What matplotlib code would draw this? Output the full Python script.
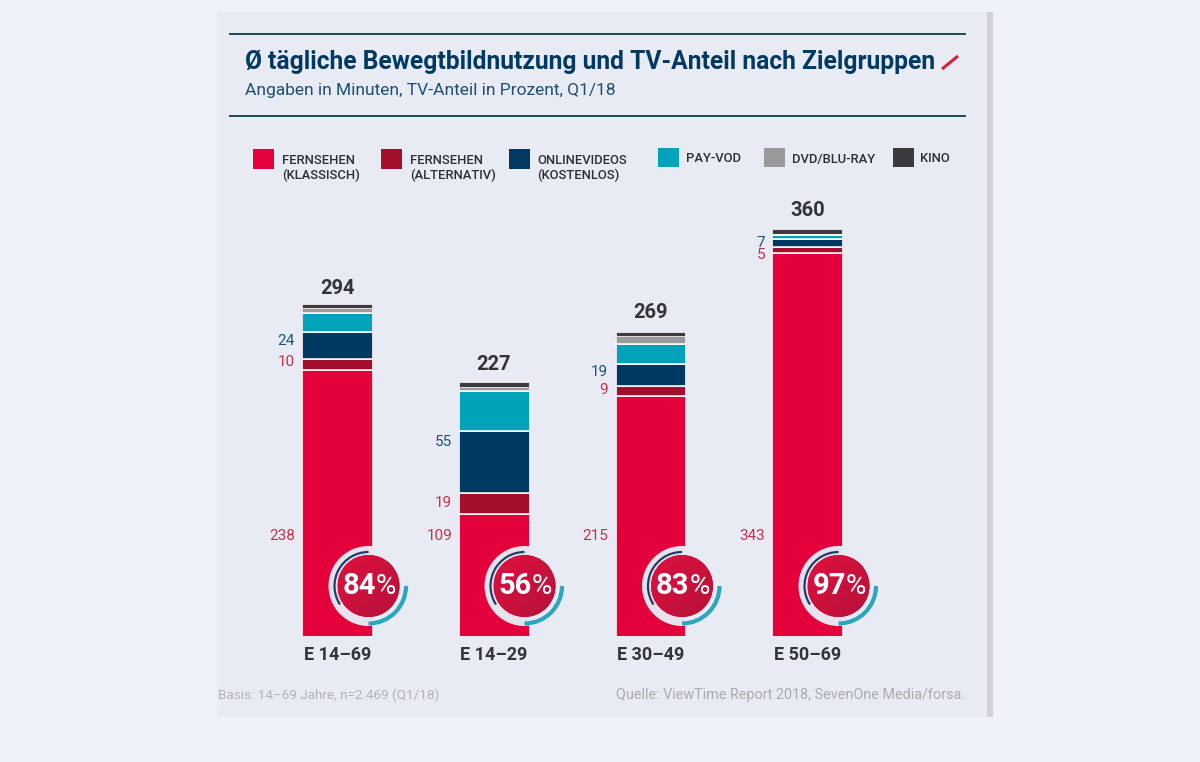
import matplotlib
matplotlib.use("Agg")
import matplotlib.pyplot as plt
import numpy as np
from matplotlib.patches import Rectangle, Circle, Arc

groups = ["E 14–69", "E 14–29", "E 30–49", "E 50–69"]
totals = [294, 227, 269, 360]
shares = ["84", "56", "83", "97"]
tv_klassisch = [238, 109, 215, 343]
tv_alternativ = [10, 19, 9, 5]
onlinevideos = [24, 55, 19, 7]
pay_vod = [17, 36, 18, 3.5]
dvd_bluray = [4.5, 4, 7.5, 1.5]
kino = [3.5, 4, 3.5, 4]
series = [tv_klassisch, tv_alternativ, onlinevideos, pay_vod, dvd_bluray, kino]
colors = ["#e4003a", "#a50f2e", "#003a63", "#00a3b8", "#9a9a9a", "#3b3b3d"]
legend_labels = ["FERNSEHEN\n(KLASSISCH)", "FERNSEHEN\n(ALTERNATIV)", "ONLINEVIDEOS\n(KOSTENLOS)",
                 "PAY-VOD", "DVD/BLU-RAY", "KINO"]
title = "Ø tägliche Bewegtbildnutzung und TV-Anteil nach Zielgruppen"
subtitle = "Angaben in Minuten, TV-Anteil in Prozent, Q1/18"
basis = "Basis: 14–69 Jahre, n=2.469 (Q1/18)"
quelle = "Quelle: ViewTime Report 2018, SevenOne Media/forsa."

W, H = 1200, 762
PANEL = "#e8ebf3"
plt.rcParams["font.family"] = ["Roboto", "DejaVu Sans"]
fig = plt.figure(figsize=(W / 100, H / 100), dpi=100, facecolor="#eef1f9")


def px_axes(z):
    a = fig.add_axes([0, 0, 1, 1], zorder=z)
    a.set_xlim(0, W)
    a.set_ylim(H, 0)
    a.axis("off")
    a.patch.set_alpha(0)
    return a


bg = px_axes(0)
fg = px_axes(2)
bg.add_patch(Rectangle((217, 12), 770, 705, fc=PANEL, ec="none"))
bg.add_patch(Rectangle((987, 12), 6, 705, fc="#d2d2d6", ec="none"))
for y in (34, 116):
    bg.plot([229, 966], [y, y], color="#1c4a58", lw=1.4, solid_capstyle="butt")
bg.text(245, 62, title, color="#003a63", fontsize=17.75, fontweight="bold", va="center", ha="left")
bg.text(245, 91, subtitle, color="#1d4f70", fontsize=12.5, va="center", ha="left")
bg.plot([942, 958], [69, 56], color="#d81e3f", lw=2.2, solid_capstyle="butt")

# legend
leg_x = [253, 381, 509, 658, 764, 893]
leg_y = [149, 149, 149, 147.5, 147.5, 147.5]
txt_x = [282, 410, 537, 686, 792, 920]
txt_y = [168, 168, 168, 158, 160, 158]
for i, lab in enumerate(legend_labels):
    bg.add_patch(Rectangle((leg_x[i], leg_y[i]), 20.5, 19.5, fc=colors[i], ec="none"))
    bg.text(txt_x[i], txt_y[i], lab, color="#2b2f36", fontsize=9.4, fontweight="medium",
            va="center", ha="left", linespacing=1.25)

# bars
SCALE = 1.118
UNIT = 156.67
left = 337.2 - 0.5 * UNIT
ymax = 400
ax = fig.add_axes([left / W, (H - 636) / H, 4 * UNIT / W, ymax * SCALE / H], zorder=1)
ax.set_xlim(-0.5, 3.5)
ax.set_ylim(0, ymax)
ax.axis("off")
ax.patch.set_alpha(0)
xs = np.arange(4)
bar_w = 0.444
bottoms = np.zeros(4)
for n, (vals, c) in enumerate(zip(series, colors)):
    ax.bar(xs, vals, bar_w, bottom=bottoms, color=c, edgecolor="#f7e6ec", linewidth=0.6)
    bottoms = bottoms + np.array(vals)
    if n < 4:
        ax.hlines(bottoms, xs - bar_w / 2 - 0.003, xs + bar_w / 2 + 0.003, color="#ffffff", lw=1.1, zorder=3)
ax.set_ylim(0, ymax)

# labels
centers = [337.5, 493.5, 651, 807.5]
total_y = [288, 365, 312, 211]
lab_x = [295, 452, 608, 765]
red_y = [536, 536, 536, 536]
alt_y = [362, 503, 390, 255]
onl_y = [341, 442, 372, 243]
RED_T = "#c3304f"
NAVY_T = "#1b5474"
for i in range(4):
    bg.text(centers[i], total_y[i], str(totals[i]), color="#333438", fontsize=14.5,
            fontweight="bold", ha="center", va="center")
    bg.text(centers[i], 655, groups[i], color="#333438", fontsize=13,
            fontweight="bold", ha="center", va="center")
    bg.text(lab_x[i], red_y[i], str(tv_klassisch[i]), color=RED_T, fontsize=11, ha="right", va="center")
    bg.text(lab_x[i], alt_y[i], str(tv_alternativ[i]), color=RED_T, fontsize=11, ha="right", va="center")
    bg.text(lab_x[i], onl_y[i], str(onlinevideos[i]), color=NAVY_T, fontsize=11, ha="right", va="center")

    cx, cy = centers[i] + 31, 586
    fg.add_patch(Circle((cx, cy), 40, fc=PANEL, ec="none", alpha=0.97))
    disc = Circle((cx, cy), 31, fc="#d3103d", ec="none")
    fg.add_patch(disc)
    shade = np.linspace(0, 1, 64)[None, :] + np.linspace(0, 1, 64)[:, None]
    im = fg.imshow(shade, extent=(cx - 31, cx + 31, cy + 31, cy - 31), aspect="auto",
                   cmap=matplotlib.colors.LinearSegmentedColormap.from_list("d", ["#e0103f", "#b5123a"]),
                   interpolation="bilinear", zorder=1.5)
    im.set_clip_path(disc)
    fg.add_patch(Arc((cx, cy), 68, 68, theta1=147, theta2=270, color="#1f3f6b", lw=1.6, zorder=2))
    fg.add_patch(Arc((cx, cy), 75, 75, theta1=0, theta2=90, color="#2ba6bd", lw=3, zorder=2))
    fg.text(cx - 26, cy, shares[i], color="#ffffff", fontsize=21, fontweight="bold",
            ha="left", va="center", zorder=3)
    fg.text(cx + 7.5, cy + 1, "%", color="#ffffff", fontsize=20, ha="left", va="center", zorder=3)
fg.set_xlim(0, W)
fg.set_ylim(H, 0)

bg.text(218, 695, basis, color="#b1b3b7", fontsize=9.7, ha="left", va="center")
bg.text(965, 695, quelle, color="#a9abaf", fontsize=10.4, ha="right", va="center")

fig.savefig("out.png", dpi=100, facecolor=fig.get_facecolor())
